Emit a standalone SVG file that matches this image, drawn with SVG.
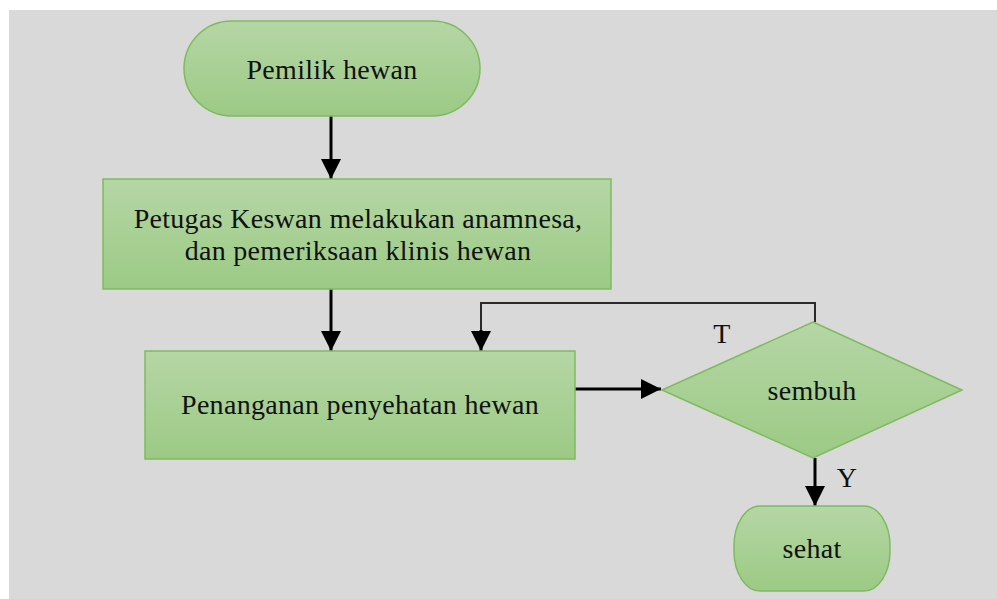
<svg xmlns="http://www.w3.org/2000/svg" width="997" height="599" viewBox="0 0 997 599">
<defs>
<linearGradient id="g" x1="0" y1="0" x2="0" y2="1">
<stop offset="0" stop-color="#b5d6a5"/>
<stop offset="1" stop-color="#9cca85"/>
</linearGradient>
<marker id="ah" viewBox="0 0 10 10" refX="10" refY="5" markerWidth="20" markerHeight="20" markerUnits="userSpaceOnUse" orient="auto">
<path d="M0,0 L10,5 L0,10 Z" fill="#000"/>
</marker>
<style>
.shape{fill:url(#g);stroke:#7fba5e;stroke-width:1.5}
.lbl{font-family:"Liberation Serif","Times New Roman",serif;font-size:28px;letter-spacing:0.3px;fill:#111;text-anchor:middle}
.conn{fill:none;stroke:#000;stroke-width:3}
.fb{fill:none;stroke:#2a2a2a;stroke-width:2}
</style>
</defs>
<rect x="9" y="10" width="988" height="589" fill="#d9d9d9"/>
<g id="connectors">
<line class="conn" x1="331" y1="116" x2="331" y2="179" marker-end="url(#ah)"/>
<line class="conn" x1="331" y1="289" x2="331" y2="351" marker-end="url(#ah)"/>
<line class="conn" x1="575" y1="389" x2="661" y2="389" marker-end="url(#ah)"/>
<path class="fb" d="M815,322 V303 H481 V349"/>
<line class="conn" x1="481" y1="330" x2="481" y2="351" marker-end="url(#ah)"/>
<line class="conn" x1="815" y1="458" x2="815" y2="506" marker-end="url(#ah)"/>
<text class="lbl" x="722" y="343">T</text>
<text class="lbl" x="847" y="487">Y</text>
</g>
<g id="pemilik">
<rect class="shape" x="184" y="21" width="296" height="95" rx="47.5" ry="47.5"/>
<text class="lbl" x="332" y="79">Pemilik hewan</text>
</g>
<g id="petugas">
<rect class="shape" x="103" y="179" width="508" height="110"/>
<text class="lbl" x="358" y="228">Petugas Keswan melakukan anamnesa,</text>
<text class="lbl" x="358" y="260">dan pemeriksaan klinis hewan</text>
</g>
<g id="penanganan">
<rect class="shape" x="145" y="351" width="430" height="108"/>
<text class="lbl" x="360" y="414">Penanganan penyehatan hewan</text>
</g>
<g id="sembuh">
<polygon class="shape" points="813,322 962,390 813,458 662,390"/>
<text class="lbl" x="812" y="400">sembuh</text>
</g>
<g id="sehat">
<rect class="shape" x="734" y="506" width="156" height="85" rx="26" ry="40"/>
<text class="lbl" x="812" y="558">sehat</text>
</g>
</svg>
